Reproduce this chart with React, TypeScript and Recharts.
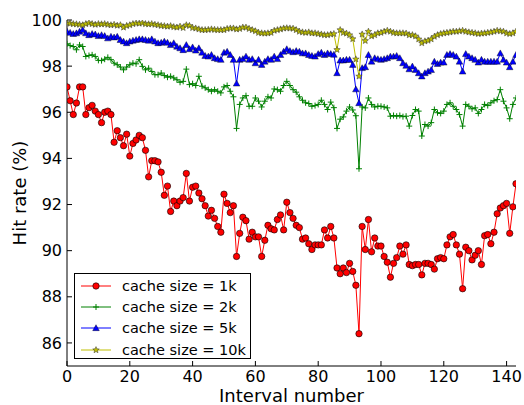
import * as React from 'react';
import { LineChart, Line, XAxis, YAxis, Legend } from 'recharts';

// hit rate (%) per interval
const hitRate1k = [
    97.1, 96.5, 95.9, 96.4, 97.1, 97.1, 95.9, 96.2, 96.3, 96.05,
    95.9, 95.55, 96.0, 96.05, 95.9, 94.7, 95.2, 94.9, 94.55, 95.05,
    94.1, 94.65, 94.8, 95.0, 94.9, 94.35, 93.2, 93.9, 93.9, 93.85,
    93.4, 92.4, 92.8, 91.7, 92.15, 91.95, 92.15, 92.3, 93.35, 92.15,
    92.75, 92.8, 92.5, 92.25, 91.95, 91.5, 91.75, 91.4, 91.05, 90.8,
    92.45, 92.05, 91.65, 91.95, 89.75, 90.75, 91.45, 91.3, 90.5, 90.8,
    90.6, 90.6, 89.75, 90.45, 91.1, 90.95, 90.9, 91.35, 91.55, 90.9,
    92.1, 91.65, 91.4, 91.1, 91.0, 90.5, 90.55, 90.3, 90.05, 90.25,
    90.25, 90.25, 90.9, 90.55, 91.05, 90.55, 89.25, 89.0, 89.25, 89.05,
    89.45, 89.1, 88.5, 86.4, 91.05, 90.05, 91.35, 89.95, 90.55, 90.2,
    90.2, 89.75, 89.5, 88.85, 89.45, 89.7, 90.2, 89.85, 90.25, 89.4,
    89.35, 89.4, 89.4, 88.95, 89.45, 89.45, 89.4, 89.2, 89.65, 89.7,
    89.65, 90.25, 90.6, 90.7, 90.25, 89.85, 88.35, 90.15, 90.0, 89.6,
    89.8, 90.0, 89.4, 90.65, 90.7, 90.3, 90.8, 91.6, 91.85, 91.95,
    92.05, 90.75, 91.9, 92.9,
];

const hitRate2k = [
    98.97, 98.89, 98.85, 98.71, 98.92, 98.85, 98.42, 98.46, 98.49, 98.42,
    98.25, 98.24, 98.3, 98.38, 98.28, 98.13, 98.06, 97.96, 97.84, 97.96,
    98.06, 98.13, 98.1, 98.28, 97.99, 97.84, 97.91, 97.77, 97.63, 97.63,
    97.7, 97.59, 97.52, 97.56, 97.49, 97.41, 97.3, 97.34, 97.87, 97.2,
    97.24, 97.16, 97.56, 97.13, 97.06, 96.98, 96.91, 96.98, 96.91, 96.84,
    97.1, 97.16, 96.91, 96.67, 95.3, 96.34, 96.62, 96.72, 96.26, 96.26,
    96.62, 96.48, 96.23, 96.48, 96.67, 96.62, 97.01, 96.98, 96.91, 97.16,
    97.34, 97.16, 96.98, 96.87, 96.67, 96.52, 96.41, 96.38, 96.26, 96.29,
    96.34, 96.52, 96.34, 96.12, 96.44, 96.2, 95.3, 95.7, 95.8, 96.05,
    96.23, 96.1, 95.85, 93.55, 96.23, 96.19, 96.62, 96.34, 96.23, 96.26,
    96.26, 96.23, 96.19, 95.83, 95.86, 95.83, 95.86, 95.81, 95.83, 95.4,
    95.86, 96.12, 96.05, 94.97, 95.47, 95.4, 95.55, 96.12, 95.98, 95.95,
    96.05, 96.34, 96.41, 96.26, 96.12, 95.9, 95.4, 96.34, 96.26, 96.15,
    96.19, 95.95, 96.12, 96.34, 96.29, 96.41, 96.5, 96.55, 96.98, 96.48,
    96.19, 95.72, 96.34, 96.62,
];

const hitRate5k = [
    99.5, 99.45, 99.4, 99.43, 99.5, 99.57, 99.43, 99.35, 99.4, 99.38,
    99.31, 99.35, 99.31, 99.21, 99.28, 99.25, 99.28, 99.14, 99.07, 99.0,
    99.07, 99.11, 99.14, 99.17, 99.17, 99.14, 99.11, 99.17, 99.07, 99.0,
    99.02, 99.07, 99.02, 98.92, 99.0, 98.85, 98.78, 98.7, 98.92, 98.74,
    98.82, 98.68, 98.78, 98.59, 98.45, 98.42, 98.49, 98.35, 98.31, 98.28,
    98.59, 98.63, 98.49, 98.28, 97.25, 98.28, 98.31, 98.42, 98.28, 98.31,
    98.13, 98.28, 98.06, 98.2, 98.31, 98.28, 98.42, 98.31, 98.49, 98.63,
    98.74, 98.66, 98.61, 98.66, 98.63, 98.56, 98.56, 98.49, 98.45, 98.42,
    98.53, 98.59, 98.49, 98.56, 98.53, 98.5, 97.7, 98.25, 98.25, 98.28,
    98.28, 98.06, 97.0, 96.4, 97.92, 97.96, 98.49, 98.2, 98.35, 98.31,
    98.28, 98.31, 98.35, 98.42, 98.42, 98.45, 98.35, 98.13, 98.02, 97.87,
    97.99, 97.84, 97.7, 97.56, 97.7, 97.77, 97.84, 98.2, 98.1, 98.16,
    98.16, 98.49, 98.53, 98.49, 98.42, 98.2, 97.77, 98.53, 98.42, 98.35,
    98.28, 98.16, 98.28, 98.2, 98.2, 98.2, 98.2, 98.2, 98.56, 98.28,
    98.16, 97.96, 98.2, 98.49,
];

const hitRate10k = [
    99.87, 99.85, 99.83, 99.82, 99.8, 99.78, 99.83, 99.87, 99.83, 99.8,
    99.83, 99.82, 99.83, 99.8, 99.78, 99.8, 99.76, 99.78, 99.68, 99.75,
    99.78, 99.83, 99.86, 99.85, 99.87, 99.83, 99.82, 99.83, 99.8, 99.78,
    99.75, 99.74, 99.72, 99.74, 99.7, 99.68, 99.72, 99.66, 99.78, 99.75,
    99.66, 99.64, 99.6, 99.57, 99.57, 99.58, 99.6, 99.58, 99.57, 99.57,
    99.57, 99.62, 99.64, 99.64, 99.6, 99.62, 99.68, 99.68, 99.62, 99.57,
    99.52, 99.45, 99.43, 99.42, 99.43, 99.45, 99.54, 99.57, 99.6, 99.64,
    99.65, 99.64, 99.63, 99.57, 99.5, 99.47, 99.45, 99.47, 99.43, 99.43,
    99.4, 99.38, 99.35, 99.35, 99.38, 99.4, 98.71, 99.57, 99.45, 99.42,
    99.35, 99.18, 98.3, 97.56, 99.38, 99.1, 99.5, 99.3, 99.35, 99.43,
    99.45, 99.5, 99.54, 99.5, 99.45, 99.43, 99.43, 99.43, 99.42, 99.35,
    99.35, 99.3, 99.17, 99.0, 99.08, 99.11, 99.17, 99.28, 99.35, 99.4,
    99.43, 99.45, 99.47, 99.5, 99.5, 99.52, 99.54, 99.5, 99.47, 99.45,
    99.43, 99.4, 99.42, 99.43, 99.45, 99.47, 99.5, 99.54, 99.52, 99.5,
    99.43, 99.4, 99.43, 99.5,
];

const xTicks = [0, 20, 40, 60, 80, 100, 120, 140];
const yTicks = [86, 88, 90, 92, 94, 96, 98, 100];

const seriesNames = ['cache size = 1k', 'cache size = 2k', 'cache size = 5k', 'cache size = 10k'];

const chartData = hitRate1k.map((v, i) => ({
    interval: i,
    s1k: v,
    s2k: hitRate2k[i],
    s5k: hitRate5k[i],
    s10k: hitRate10k[i],
}));

const FONT = '"DejaVu Sans", sans-serif';

const series = [
    { key: 's1k', color: '#ff0000', marker: 'circle' },
    { key: 's2k', color: '#008000', marker: 'plus' },
    { key: 's5k', color: '#0000ff', marker: 'triangle' },
    { key: 's10k', color: '#bfbf00', marker: 'star' },
];

const starPoints = (cx: number, cy: number, ro: number, ri: number) => {
    const pts: string[] = [];
    for (let k = 0; k < 10; k++) {
        const r = k % 2 === 0 ? ro : ri;
        const a = -Math.PI / 2 + (k * Math.PI) / 5;
        pts.push(`${cx + r * Math.cos(a)},${cy + r * Math.sin(a)}`);
    }
    return pts.join(' ');
};

const drawMarker = (kind: string, cx: number, cy: number, color: string, key?: any) => {
    if (kind === 'circle') {
        return <circle key={key} cx={cx} cy={cy} r={3.2} fill={color} stroke='#000' strokeWidth={0.6} />;
    }
    if (kind === 'plus') {
        return (
            <g key={key} stroke={color} strokeWidth={1}>
                <line x1={cx - 3} y1={cy} x2={cx + 3} y2={cy} />
                <line x1={cx} y1={cy - 3} x2={cx} y2={cy + 3} />
            </g>
        );
    }
    if (kind === 'triangle') {
        const s = 3.3;
        return (
            <polygon key={key}
                points={`${cx},${cy - s} ${cx - s},${cy + s * 0.8} ${cx + s},${cy + s * 0.8}`}
                fill={color} stroke='#000' strokeWidth={0.4} />
        );
    }
    return <polygon key={key} points={starPoints(cx, cy, 3.4, 1.5)} fill={color} stroke='#333' strokeWidth={0.5} />;
};

const makeDot = (kind: string, color: string) => (props: any) => {
    const { cx, cy, index } = props;
    if (cx == null || cy == null) return <g key={index} />;
    return drawMarker(kind, cx, cy, color, index);
};

const renderLegend = () => (
    <div style={{
        width: 177, height: 86, boxSizing: 'border-box', border: '1px solid #000',
        background: '#fff', paddingTop: 1, fontFamily: FONT, fontSize: 14.5,
    }}>
        {series.map((s, i) => (
            <div key={s.key} style={{ height: 21.3, display: 'flex', alignItems: 'center' }}>
                <svg width={46} height={14} style={{ flex: 'none' }}>
                    <line x1={6} y1={7} x2={36} y2={7} stroke={s.color} strokeWidth={1} />
                    {drawMarker(s.marker, 21, 7, s.color)}
                </svg>
                <span style={{ marginLeft: 1, color: '#000', whiteSpace: 'nowrap' }}>{seriesNames[i]}</span>
            </div>
        ))}
    </div>
);

const YTitle = () => (
    <text x={19} y={193} transform='rotate(-90, 19, 193)' textAnchor='middle'
        dominantBaseline='central' fontSize={18} fontFamily={FONT} fill='#000'>
        Hit rate (%)
    </text>
);

const tickStyle = { fontSize: 16, fill: '#000', fontFamily: FONT };

export default function App() {
    return (
        <div style={{ position: 'absolute', left: 0, top: 0, width: 524, height: 405, background: '#fff' }}>
            <LineChart width={524} height={405} data={chartData}
                margin={{ top: 20, right: 8, bottom: 0, left: 0 }}>
                <XAxis dataKey='interval' type='number' domain={[0, 143]} ticks={xTicks}
                    allowDataOverflow tickSize={-5} tickMargin={10} height={39}
                    axisLine={{ stroke: '#000' }} tickLine={{ stroke: '#000' }} tick={tickStyle}
                    label={{ value: 'Interval number', position: 'insideBottom', offset: 3, fontSize: 18, fill: '#000', fontFamily: FONT }} />
                <XAxis xAxisId='top' orientation='top' dataKey='interval' type='number' domain={[0, 143]}
                    ticks={xTicks} allowDataOverflow tickSize={-5} height={0} tick={false}
                    axisLine={{ stroke: '#000' }} tickLine={{ stroke: '#000' }} />
                <YAxis type='number' domain={[85, 100]} ticks={yTicks} allowDataOverflow
                    tickSize={-5} tickMargin={10} width={67}
                    axisLine={{ stroke: '#000' }} tickLine={{ stroke: '#000' }} tick={tickStyle}
                    label={{ content: YTitle }} />
                <YAxis yAxisId='right' orientation='right' type='number' domain={[85, 100]} ticks={yTicks}
                    allowDataOverflow tickSize={-5} width={0} tick={false}
                    axisLine={{ stroke: '#000' }} tickLine={{ stroke: '#000' }} />
                {series.map(s => (
                    <Line key={s.key} type='linear' dataKey={s.key} stroke={s.color} strokeWidth={1}
                        dot={makeDot(s.marker, s.color)} activeDot={false} isAnimationActive={false} />
                ))}
                <Legend layout='vertical' align='center' verticalAlign='middle'
                    wrapperStyle={{ left: 74, top: 273, width: 177, height: 86 }}
                    content={renderLegend} />
            </LineChart>
        </div>
    );
}
